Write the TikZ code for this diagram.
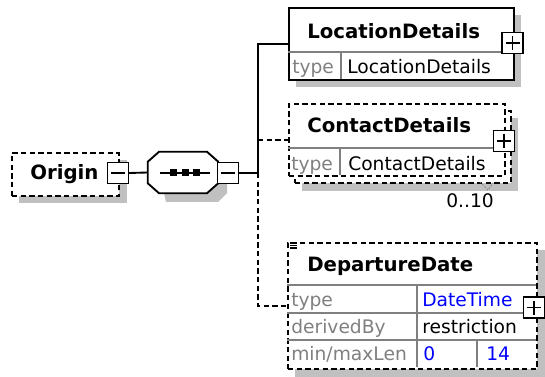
\documentclass[tikz,border=0pt]{standalone}
\usepackage{fontspec}
\setmainfont{DejaVu Sans}
\usetikzlibrary{backgrounds}

\definecolor{shadowgray}{RGB}{192,192,192}
\definecolor{attrgray}{RGB}{128,128,128}
\definecolor{typeblue}{RGB}{0,0,255}

\tikzset{
	elem/.style={draw, fill=white, line width=1.4pt, inner sep=0pt, anchor=north west},
	optelem/.style={elem, dash pattern=on 4pt off 2.5pt},
	conn/.style={line width=1.4pt},
	optconn/.style={conn, dash pattern=on 4pt off 2.5pt},
	rowline/.style={draw=attrgray, line width=0.9pt},
	title/.style={anchor=west, inner sep=0pt, text height=10.5pt, text depth=0pt, font=\fontsize{14.8}{16}\selectfont\bfseries},
	lbl/.style={anchor=west, inner sep=0pt, text height=10.2pt, text depth=0pt, font=\fontsize{14}{16}\selectfont},
	attr/.style={lbl, text=attrgray},
	val/.style={lbl, text=typeblue},
	ctlminus/.style={draw, fill=white, line width=1.1pt, inner sep=0pt, minimum size=15.5pt,
		path picture={\draw[line width=1.1pt] ([xshift=2.5pt]path picture bounding box.west) -- ([xshift=-2.5pt]path picture bounding box.east);}},
	ctlplus/.style={ctlminus,
		path picture={\draw[line width=1.1pt] ([xshift=2.5pt]path picture bounding box.west) -- ([xshift=-2.5pt]path picture bounding box.east)
			([yshift=-2.5pt]path picture bounding box.north) -- ([yshift=2.5pt]path picture bounding box.south);}},
	seqbox/.style={minimum width=52.5pt, minimum height=30.75pt, inner sep=0pt}
}

\begin{document}
\begin{tikzpicture}[x=0.75pt,y=-0.75pt]
	\useasboundingbox (0,0) rectangle (545,377);

	% root and sequence
	\node[optelem, minimum width=80.25pt, minimum height=32.25pt] (origin) at (11,152) {};
	\node[title] (originname) at (30,173) {Origin};
	\node[ctlminus] (originctl) at (118,173) {};

	\node[seqbox] (seq) at (183,172.5) {};
	\draw[conn, fill=white] ([xshift=8.5pt]seq.north west) -- ([xshift=-8.5pt]seq.north east) -- ([yshift=-7.5pt]seq.north east)
		-- ([yshift=7.5pt]seq.south east) -- ([xshift=-8.5pt]seq.south east) -- ([xshift=8.5pt]seq.south west)
		-- ([yshift=7.5pt]seq.south west) -- ([yshift=-7.5pt]seq.north west) -- cycle;
	\draw[line width=1.1pt] (160,173) -- (210,173); % sequence sign
	\foreach \sx in {173,185,196}
		\fill (\sx-3.5,169.5) rectangle (\sx+3.5,176.5);
	\node[ctlminus] (seqctl) at (228,173) {};

	\coordinate (trunk) at (258,173);

	% children
	\node[elem, minimum width=168.75pt, minimum height=54pt] (loc) at (288,7) {};
	\node[optelem, minimum width=162pt, minimum height=54pt] (contactback) at (294,110) {};
	\node[optelem, minimum width=162pt, minimum height=54pt] (contact) at (288,103) {};
	\node[optelem, minimum width=186.75pt, minimum height=94.5pt] (dep) at (287,242) {};

	% connectors
	\draw[conn] (originctl.east) -- (seq.west);
	\draw[conn] (seqctl.east) -- (trunk);
	\draw[conn] (trunk) |- (loc.west);
	\draw[optconn] (trunk) |- (dep.west);
	\draw[optconn] (trunk |- contact.west) -- (contact.west);

	% LocationDetails
	\draw[rowline] (288,52) -- (513,52);
	\draw[rowline] (341,52) -- (341,79);
	\node[title] (locname) at (307,31.5) {LocationDetails};
	\node[attr] (loctypekey) at (292,67) {type};
	\node[lbl] (loctype) at (347,67) {LocationDetails};
	\node[ctlplus] (locctl) at (512.5,43) {};

	% ContactDetails
	\draw[rowline] (288,148) -- (504,148);
	\draw[rowline] (340,148) -- (340,175);
	\node[title] (contactname) at (307,125.5) {ContactDetails};
	\node[attr] (contacttypekey) at (291,163.5) {type};
	\node[lbl] (contacttype) at (348,163.5) {ContactDetails};
	\node[ctlplus] (contactctl) at (504,141) {};
	\draw[attrgray, line width=0.7pt, dash pattern=on 1.2pt off 1.2pt] (480,182) -- (488,190) -- (493,183);
	\node[lbl, anchor=center] (contactocc) at (470,201) {0..10};

	% DepartureDate
	\draw[rowline] (287,285) -- (536,285);
	\draw[rowline] (287,313) -- (536,313);
	\draw[rowline] (287,340) -- (536,340);
	\draw[rowline] (417,285) -- (417,367);
	\draw[rowline] (477,340) -- (477,367);
	\foreach \iy in {243,245.5,248}
		\draw[line width=0.8pt] (290,\iy) -- (297,\iy); % doc icon
	\node[title] (depname) at (307,264.5) {DepartureDate};
	\node[attr] (deptypekey) at (291,300) {type};
	\node[val] (deptype) at (422,300) {DateTime};
	\node[attr] (depderivkey) at (291,327) {derivedBy};
	\node[lbl] (depderiv) at (422,327) {restriction};
	\node[attr] (deplenkey) at (291,354) {min/maxLen};
	\node[val] (depmin) at (423,354) {0};
	\node[val] (depmax) at (486,354) {14};
	\node[ctlplus] (depctl) at (534,307.5) {};

	% shadows
	\begin{scope}[on background layer]
		\fill[shadowgray] (19,160) rectangle (127,203);
		\fill[shadowgray] (157,161) -- (201,161) -- (227,171) -- (227,193) -- (218,202) -- (166,202) -- cycle;
		\fill[shadowgray] (296,15) rectangle (521,87);
		\fill[shadowgray] (302,118) rectangle (518,191);
		\fill[shadowgray] (295,250) rectangle (545,377);
	\end{scope}
\end{tikzpicture}
\end{document}
